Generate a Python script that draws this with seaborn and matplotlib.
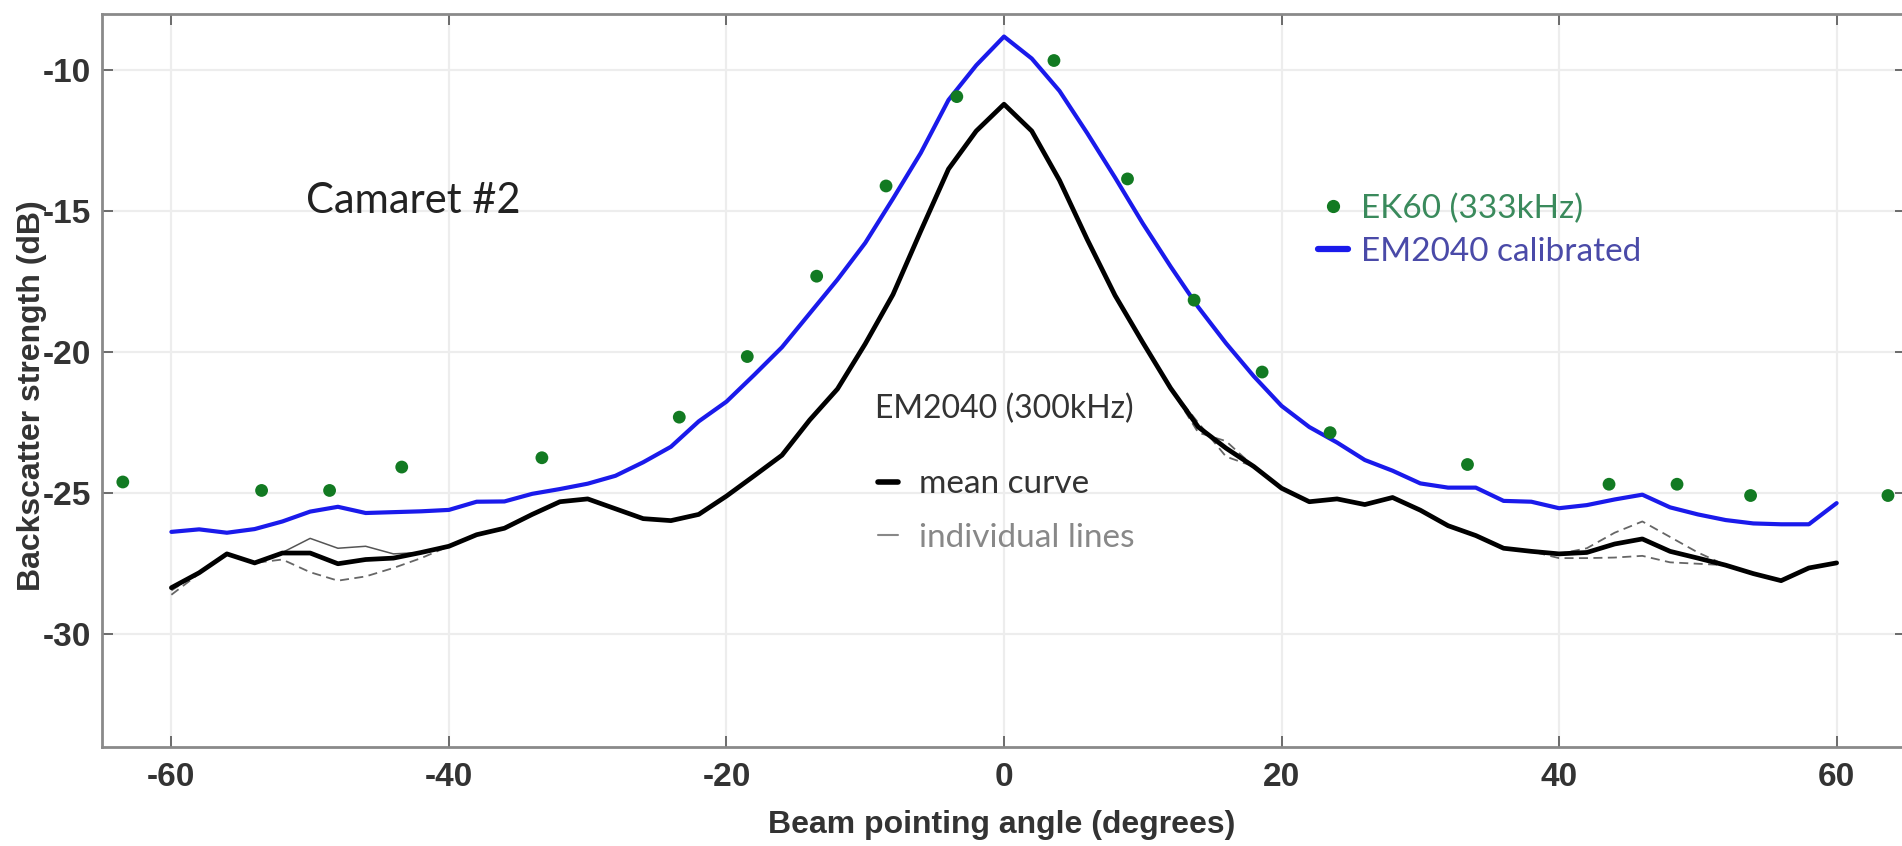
import numpy as np
import pandas as pd
import matplotlib
matplotlib.use("Agg")
import matplotlib.pyplot as plt
import seaborn as sns
from matplotlib.lines import Line2D

# ---------------- data ----------------
angles = list(range(-60, 62, 2))

em2040_mean = [
    -28.35, -27.82, -27.15, -27.47, -27.12, -27.12, -27.50, -27.35, -27.30, -27.10,
    -26.88, -26.47, -26.24, -25.75, -25.30, -25.20, -25.55, -25.90, -25.97, -25.75,
    -25.10, -24.38, -23.65, -22.40, -21.30, -19.70, -17.95, -15.70, -13.50, -12.15,
    -11.20, -12.15, -13.90, -16.00, -17.98, -19.65, -21.27, -22.65, -23.40, -24.05,
    -24.82, -25.30, -25.20, -25.40, -25.15, -25.60, -26.15, -26.50, -26.95, -27.06,
    -27.15, -27.10, -26.80, -26.62, -27.06, -27.30, -27.55, -27.85, -28.10, -27.65,
    -27.47]

em2040_line1 = [
    -28.40, -27.85, -27.15, -27.47, -27.10, -26.60, -26.95, -26.88, -27.15, -27.10,
    -26.88, -26.47, -26.24, -25.75, -25.30, -25.20, -25.55, -25.90, -25.97, -25.75,
    -25.10, -24.38, -23.65, -22.40, -21.30, -19.70, -17.95, -15.70, -13.50, -12.15,
    -11.20, -12.15, -13.90, -16.00, -17.98, -19.65, -21.27, -22.65, -23.40, -24.05,
    -24.82, -25.30, -25.20, -25.40, -25.15, -25.60, -26.15, -26.50, -26.95, -27.06,
    -27.15, -27.10, -26.80, -26.62, -27.06, -27.30, -27.55, -27.85, -28.10, -27.65,
    -27.47]

em2040_line2 = [
    -28.60, -27.85, -27.15, -27.47, -27.35, -27.80, -28.10, -27.95, -27.65, -27.30,
    -26.88, -26.47, -26.24, -25.75, -25.30, -25.20, -25.55, -25.90, -25.97, -25.75,
    -25.10, -24.38, -23.65, -22.40, -21.30, -19.70, -17.95, -15.70, -13.50, -12.15,
    -11.20, -12.15, -13.90, -16.00, -17.98, -19.65, -21.27, -22.85, -23.15, -24.05,
    -24.82, -25.30, -25.20, -25.40, -25.15, -25.60, -26.15, -26.50, -26.95, -27.06,
    -27.15, -26.95, -26.40, -26.00, -26.55, -27.10, -27.55, -27.85, -28.10, -27.65,
    -27.47]

em2040_line3 = [
    -28.45, -27.80, -27.15, -27.47, -27.12, -27.12, -27.50, -27.35, -27.30, -27.10,
    -26.88, -26.47, -26.24, -25.75, -25.30, -25.20, -25.55, -25.90, -25.97, -25.75,
    -25.10, -24.38, -23.65, -22.40, -21.30, -19.70, -17.95, -15.70, -13.50, -12.15,
    -11.20, -12.15, -13.90, -16.00, -17.98, -19.65, -21.27, -22.50, -23.70, -24.05,
    -24.82, -25.30, -25.20, -25.40, -25.15, -25.60, -26.15, -26.50, -26.95, -27.06,
    -27.30, -27.30, -27.28, -27.22, -27.45, -27.50, -27.55, -27.85, -28.10, -27.65,
    -27.47]

em2040_calibrated = [
    -26.37, -26.28, -26.40, -26.27, -26.00, -25.65, -25.48, -25.70, -25.67, -25.64,
    -25.59, -25.30, -25.29, -25.02, -24.85, -24.66, -24.38, -23.90, -23.35, -22.45,
    -21.75, -20.80, -19.82, -18.62, -17.42, -16.12, -14.55, -12.93, -11.05, -9.82,
    -8.80, -9.58, -10.73, -12.23, -13.80, -15.43, -16.95, -18.40, -19.68, -20.85,
    -21.90, -22.65, -23.20, -23.82, -24.20, -24.65, -24.80, -24.80, -25.27, -25.30,
    -25.53, -25.42, -25.22, -25.05, -25.50, -25.75, -25.95, -26.07, -26.10, -26.10,
    -25.35]

ek60_angles = [-63.5, -53.5, -48.6, -43.4, -33.3, -23.4, -18.5, -13.5, -8.5, -3.4,
               3.6, 8.9, 13.7, 18.6, 23.5, 33.4, 43.6, 48.5, 53.8, 63.7]
ek60_bs = [-24.60, -24.90, -24.90, -24.07, -23.74, -22.30, -20.15, -17.30, -14.10, -10.93,
           -9.65, -13.85, -18.15, -20.70, -22.85, -23.98, -24.68, -24.68, -25.08, -25.08]

x_ticks = [-60, -40, -20, 0, 20, 40, 60]
y_ticks = [-30, -25, -20, -15, -10]

# ---------------- style ----------------
sns.set_theme(style="whitegrid")
plt.rcParams['font.family'] = ['Liberation Sans', 'DejaVu Sans']
plt.rcParams['axes.unicode_minus'] = False

fig = plt.figure(figsize=(19.02, 8.46), dpi=100)
ax = fig.add_axes([102 / 1902, 99 / 846, 1804 / 1902, 733 / 846])
ax.set_facecolor("white")

df_mean = pd.DataFrame({"angle": angles, "bs": em2040_mean})
df_cal = pd.DataFrame({"angle": angles, "bs": em2040_calibrated})
df_ek = pd.DataFrame({"angle": ek60_angles, "bs": ek60_bs})

# individual lines
sns.lineplot(data=pd.DataFrame({"angle": angles, "bs": em2040_line1}), x="angle", y="bs",
             ax=ax, color="#555555", lw=1.1, zorder=2)
sns.lineplot(data=pd.DataFrame({"angle": angles, "bs": em2040_line2}), x="angle", y="bs",
             ax=ax, color="#666666", lw=1.3, zorder=2, linestyle=(0, (5, 3)))
sns.lineplot(data=pd.DataFrame({"angle": angles, "bs": em2040_line3}), x="angle", y="bs",
             ax=ax, color="#666666", lw=1.3, zorder=2, linestyle=(0, (5, 3)))
# mean
sns.lineplot(data=df_mean, x="angle", y="bs", ax=ax, color="black", lw=3.4, zorder=3)
# calibrated
sns.lineplot(data=df_cal, x="angle", y="bs", ax=ax, color="#1a1aeb", lw=3.0, zorder=3)
# EK60
sns.scatterplot(data=df_ek, x="angle", y="bs", ax=ax, color="#127a22", s=85,
                edgecolor="none", zorder=4)

ax.set_xlim(-65, 65)
ax.set_ylim(-34, -8)
ax.set_xticks(x_ticks)
ax.set_yticks(y_ticks)
ax.grid(True, color="#ededed", lw=1.6)
for s in ax.spines.values():
    s.set_visible(True)
    s.set_color("#8a8a8a")
    s.set_linewidth(2.0)

ax.tick_params(axis="both", which="major", direction="in", length=8, width=1.2,
               color="#555555", top=True, right=True, bottom=True, left=True,
               labelsize=24, labelcolor="#333333")
ax.tick_params(axis="x", pad=11)
ax.tick_params(axis="y", pad=8)
for lab in ax.get_xticklabels() + ax.get_yticklabels():
    lab.set_fontweight("bold")

ax.set_xlabel("Beam pointing angle (degrees)", fontsize=23, fontweight="bold", color="#333333")
ax.set_ylabel("Backscatter strength (dB)", fontsize=23, fontweight="bold", color="#333333")
ax.xaxis.set_label_coords(0.4985, -0.086)
ax.yaxis.set_label_coords(-0.0305, 0.48)

# annotations
txt_font = ['Lato', 'DejaVu Sans']
ax.text(-50.3, -14.62, "Camaret #2", fontsize=30, family=txt_font, color="#222222",
        ha="left", va="center")
ax.text(0, -22.0, "EM2040 (300kHz)", fontsize=23, family=txt_font, color="#333333",
        ha="center", va="center")

h_ek = Line2D([], [], ls="none", marker="o", ms=8.5, color="#127a22")
h_cal = Line2D([], [], color="#1a1aeb", lw=4.5)
leg1 = ax.legend([h_ek, h_cal], ["EK60 (333kHz)", "EM2040 calibrated"],
                 loc="center left", bbox_to_anchor=(0.674, 0.705), frameon=False,
                 prop={"family": txt_font, "size": 24}, handlelength=0.9,
                 handletextpad=0.4, labelspacing=0.4, borderpad=0, borderaxespad=0)
leg1.get_texts()[0].set_color("#3a8a5c")
leg1.get_texts()[1].set_color("#4a4aa8")
ax.add_artist(leg1)

h_mean = Line2D([], [], color="black", lw=4)
h_ind = Line2D([], [], color="#888888", lw=1.5)
leg2 = ax.legend([h_mean, h_ind], ["mean curve", "individual lines"],
                 loc="center left", bbox_to_anchor=(0.430, 0.322), frameon=False,
                 prop={"family": txt_font, "size": 24}, handlelength=0.6,
                 handletextpad=0.65, labelspacing=0.7, borderpad=0, borderaxespad=0)
leg2.get_texts()[0].set_color("#333333")
leg2.get_texts()[1].set_color("#888888")

fig.savefig("out.png", dpi=100, facecolor="white")
